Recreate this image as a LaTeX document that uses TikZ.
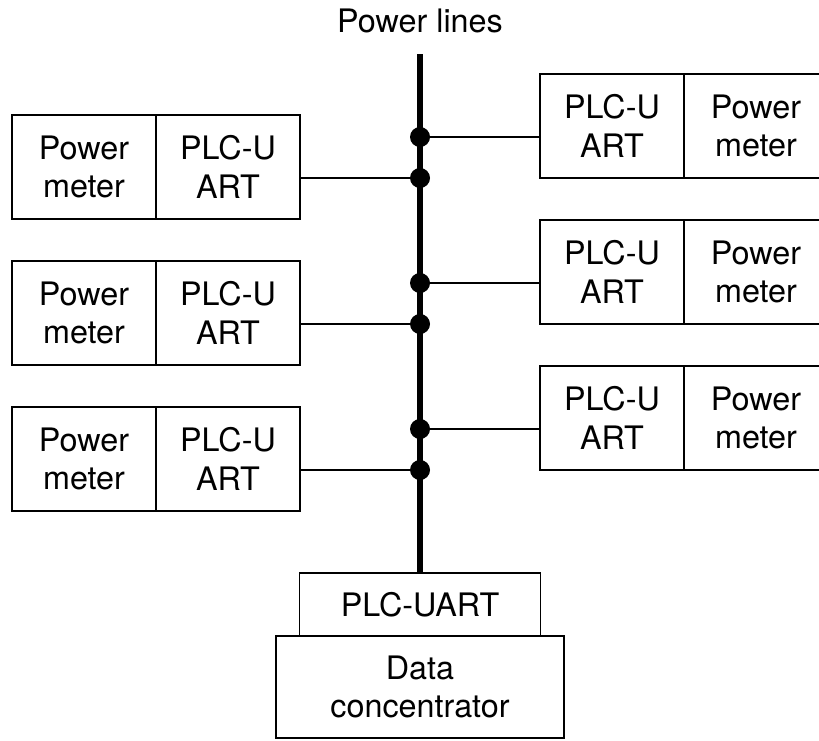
\documentclass[tikz,border=0pt]{standalone}
\usepackage{fontspec}
\setmainfont{TeX Gyre Heros}
\usepackage{tikz}
\usetikzlibrary{positioning}
\tikzset{
	block/.style={draw, line width=1.2pt, align=center, inner sep=0pt, outer sep=0pt},
	half/.style={block, minimum width=3.6cm, minimum height=2.6cm},
	dot/.style={circle, fill, inner sep=0pt, minimum size=0.5cm},
	bus/.style={line width=3.6pt},
	wire/.style={line width=1.2pt}
}

\begin{document}
\begin{tikzpicture}[font=\fontsize{23}{27.5}\selectfont]
		\useasboundingbox (0,0) rectangle (20.475,-18.5);
		
		% Title
		\node[anchor=base] (title) at (10.5,-0.82) {Power lines};
		
		% Left meters
		\node[half, anchor=north west] (meterL1) at (0.3,-2.875) {Power\\meter};
		\node[half, right=0pt of meterL1] (plcL1) {PLC-U\\ART};
		\node[half, anchor=north west] (meterL2) at (0.3,-6.525) {Power\\meter};
		\node[half, right=0pt of meterL2] (plcL2) {PLC-U\\ART};
		\node[half, anchor=north west] (meterL3) at (0.3,-10.175) {Power\\meter};
		\node[half, right=0pt of meterL3] (plcL3) {PLC-U\\ART};
		
		% Right meters
		\node[half, anchor=north west] (plcR1) at (13.5,-1.85) {PLC-U\\ART};
		\node[half, right=0pt of plcR1] (meterR1) {Power\\meter};
		\node[half, anchor=north west] (plcR2) at (13.5,-5.5) {PLC-U\\ART};
		\node[half, right=0pt of plcR2] (meterR2) {Power\\meter};
		\node[half, anchor=north west] (plcR3) at (13.5,-9.15) {PLC-U\\ART};
		\node[half, right=0pt of plcR3] (meterR3) {Power\\meter};
		
		% Data concentrator
		\node[block, minimum width=6.025cm, minimum height=1.575cm, anchor=north] (plc) at (10.5,-14.325) {PLC-UART};
		\node[block, minimum width=7.2cm, minimum height=2.55cm, below=0pt of plc] (dc) {Data\\concentrator};
		
		% Power line
		\coordinate (bustop) at (10.5,-1.35);
		\draw[bus] (bustop) -- (plc.north);
		
		% Taps
		\node[dot] (dotR1) at (10.5,-3.425) {};
		\node[dot] (dotL1) at (10.5,-4.45) {};
		\node[dot] (dotR2) at (10.5,-7.075) {};
		\node[dot] (dotL2) at (10.5,-8.1) {};
		\node[dot] (dotR3) at (10.5,-10.725) {};
		\node[dot] (dotL3) at (10.5,-11.75) {};
		
		\draw[wire] (plcL1.east |- dotL1) -- (dotL1);
		\draw[wire] (plcL2.east |- dotL2) -- (dotL2);
		\draw[wire] (plcL3.east |- dotL3) -- (dotL3);
		\draw[wire] (dotR1) -- (dotR1 -| plcR1.west);
		\draw[wire] (dotR2) -- (dotR2 -| plcR2.west);
		\draw[wire] (dotR3) -- (dotR3 -| plcR3.west);
	\end{tikzpicture}
\end{document}
